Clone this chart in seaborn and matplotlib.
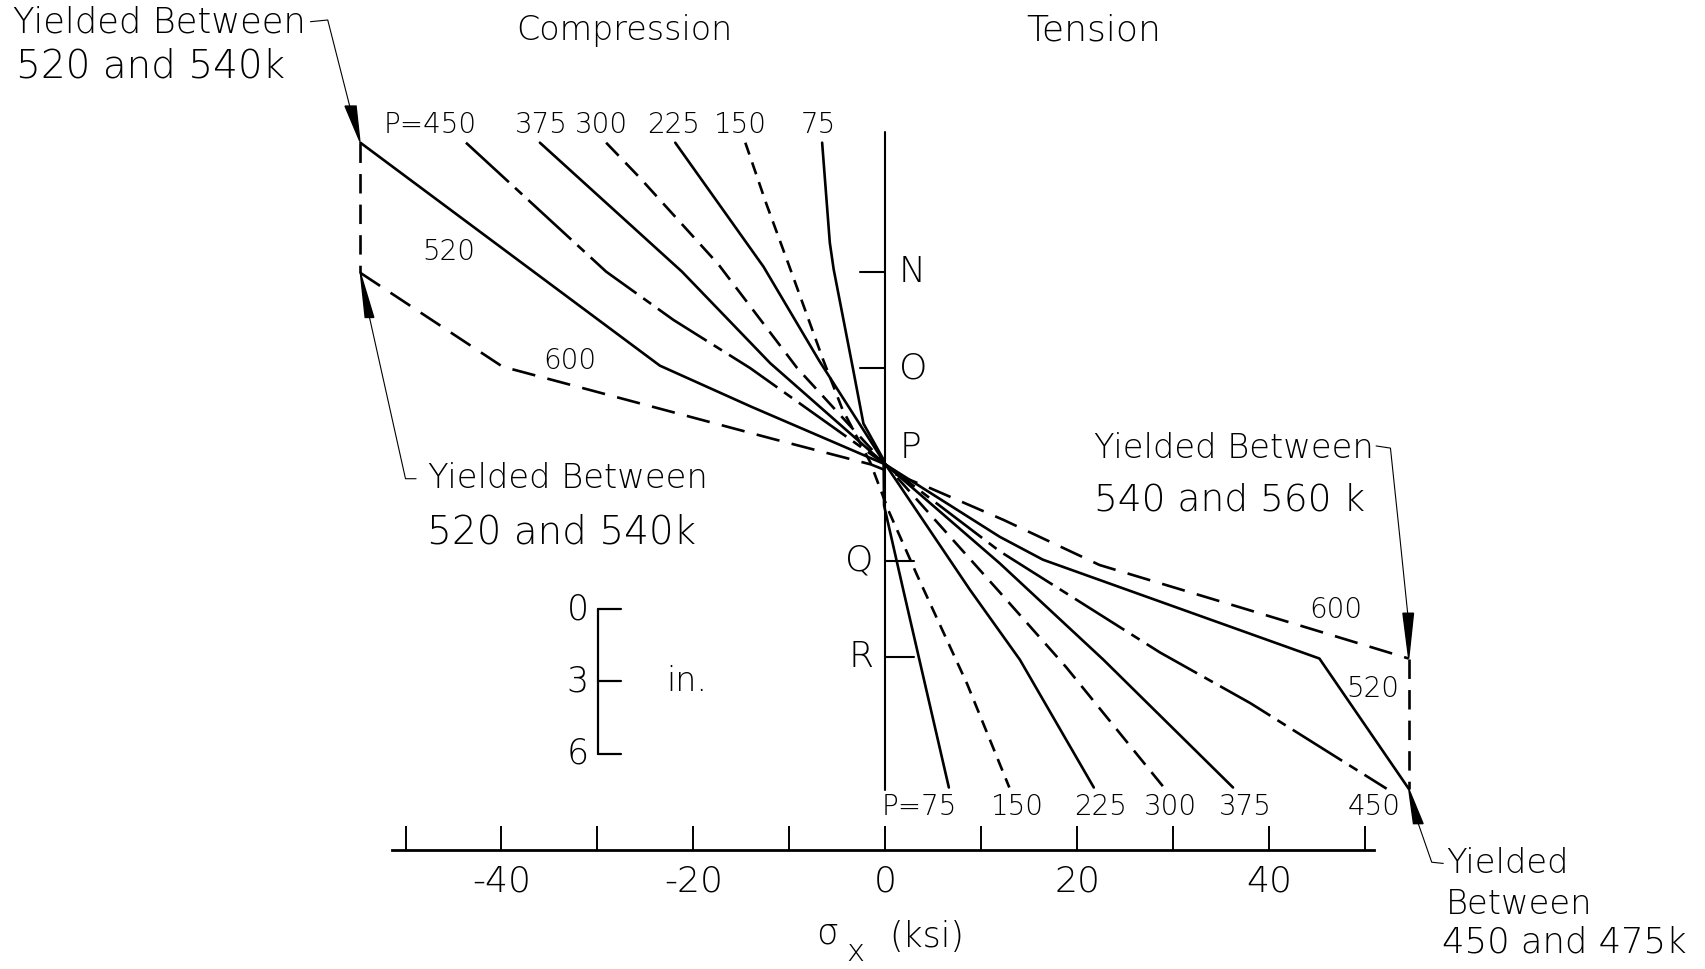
import numpy as np
import pandas as pd
import matplotlib
matplotlib.use("Agg")
import matplotlib.pyplot as plt
from matplotlib.ticker import FixedLocator, FuncFormatter
import seaborn as sns

# ---------------- data (stress in ksi, depth in inches, P at depth 0) ----------------
loads = ["75", "150", "225", "300", "375", "450", "520", "600"]

p75_x = [-6.6, -5.8, -5.4, -3.4, -2.3, -0.2, -0.15, 1.85, 6.6]
p75_y = [-13.35, -9.2, -8.1, -4.0, -1.7, -0.2, 1.7, 5.2, 13.4]

p150_x = [-14.6, -12.4, -10.0, -6.5, -4.5, -1.6, 0.3, 3.3, 8.5, 12.9]
p150_y = [-13.35, -10.8, -8.2, -4.35, -2.3, -0.1, 1.9, 4.6, 9.1, 13.4]

p225_x = [-21.9, -12.7, -6.9, 0.0, 8.8, 14.0, 21.7]
p225_y = [-13.35, -8.2, -4.3, 0.0, 5.2, 8.1, 13.4]

p300_x = [-29.1, -25.6, -17.4, -9.2, 0.0, 11.9, 18.8, 29.0]
p300_y = [-13.35, -11.9, -8.3, -4.0, 0.0, 5.3, 8.4, 13.4]

p375_x = [-36.0, -21.2, -12.0, 0.0, 11.9, 22.7, 36.2]
p375_y = [-13.35, -8.0, -4.2, 0.0, 4.1, 8.1, 13.4]

p450_x = [-43.7, -29.1, -22.1, -14.1, 0.0, 11.9, 28.6, 38.0, 52.2]
p450_y = [-13.35, -8.0, -6.0, -4.0, 0.0, 3.6, 7.8, 9.9, 13.45]

p520_x = [-54.7, -23.5, -14.0, 0.0, 11.9, 16.4, 45.2, 54.5]
p520_y = [-13.35, -4.1, -2.4, 0.0, 3.0, 3.95, 8.05, 13.45]

p600_x = [-54.7, -39.9, -12.0, -1.5, 4.3, 12.3, 22.3, 37.3, 54.5]
p600_y = [-7.95, -4.06, -1.09, 0.0, 0.92, 2.3, 4.17, 5.97, 8.05]

# yielding connectors (between 520 and 600 ends)
yield_left_x = [-54.7, -54.7]
yield_left_y = [-13.35, -7.95]
yield_right_x = [54.5, 54.5]
yield_right_y = [8.05, 13.45]

stress_ticks = [-50, -40, -30, -20, -10, 0, 10, 20, 30, 40, 50]
stress_labels = ["", "-40", "", "-20", "", "0", "", "20", "", "40", ""]

depth_marks = ["N", "O", "P", "Q", "R"]
depth_values = [-8, -4, 0, 4, 8]

scale_values = [0, 3, 6]

top_labels = ["P=450", "375", "300", "225", "150", "75"]
bottom_labels = ["P=75", "150", "225", "300", "375", "450"]

series = {
    "75": (p75_x, p75_y), "150": (p150_x, p150_y), "225": (p225_x, p225_y),
    "300": (p300_x, p300_y), "375": (p375_x, p375_y), "450": (p450_x, p450_y),
    "520": (p520_x, p520_y), "600": (p600_x, p600_y),
}
df = pd.concat(
    [pd.DataFrame({"stress": series[k][0], "depth": series[k][1], "P": k}) for k in loads],
    ignore_index=True,
)

# ---------------- style ----------------
sns.set_theme(style="white")
plt.rcParams["font.family"] = ["DejaVu Sans"]
plt.rcParams["lines.scale_dashes"] = False
plt.rcParams["text.color"] = "black"
plt.rcParams["xtick.color"] = "black"
plt.rcParams["axes.labelcolor"] = "black"

styles = {
    "75": "-", "150": (0, (9, 6)), "225": "-", "300": (0, (13, 7)),
    "375": "-", "450": (0, (42, 6, 7, 6)), "520": "-", "600": (0, (17, 9)),
}
LW = 1.9
FW = "light"

fig = plt.figure(figsize=(17.06, 9.69), dpi=100)
ax = fig.add_axes([0, 0, 1, 1])

for k in loads:
    sub = df[df["P"] == k]
    sns.lineplot(data=sub, x="stress", y="depth", sort=False, estimator=None,
                 color="black", lw=LW, ax=ax, legend=False)
    ax.lines[-1].set_linestyle(styles[k])

for xs, ys in [(yield_left_x, yield_left_y), (yield_right_x, yield_right_y)]:
    sns.lineplot(x=xs, y=ys, sort=False, estimator=None, color="black", lw=LW, ax=ax)
    ax.lines[-1].set_linestyle((0, (14, 8)))

# vertical reference axis through x = 0
ax.plot([0, 0], [-13.8, 13.5], color="black", lw=1.5)
for name, d in zip(depth_marks, depth_values):
    if d < 0:
        ax.plot([-2.7, 0], [d, d], color="black", lw=1.5)
        ax.text(1.4, d, name, fontsize=26, fontweight=FW, ha="left", va="center")
    elif d > 0:
        ax.plot([0, 3.0], [d, d], color="black", lw=1.5)
        ax.text(-1.2, d, name, fontsize=26, fontweight=FW, ha="right", va="center")
    else:
        ax.text(1.5, d - 0.7, name, fontsize=26, fontweight=FW, ha="left", va="center")

# depth scale bar (inches)
sb_x = -29.9
sb0 = 6.0
ax.plot([sb_x, sb_x], [sb0 + scale_values[0], sb0 + scale_values[-1]], color="black", lw=1.6)
for v in scale_values:
    ax.plot([sb_x, sb_x + 2.3], [sb0 + v, sb0 + v], color="black", lw=1.6)
    ax.text(sb_x - 1.0, sb0 + v, str(v), fontsize=25, fontweight=FW, ha="right", va="center")
ax.text(-20.7, sb0 + 3, "in.", fontsize=24, fontweight=FW, ha="center", va="center")

# load labels
for lab, xx in zip(top_labels, [-47.4, -35.8, -29.6, -22.1, -15.1, -7.0]):
    ax.text(xx, -14.1, lab, fontsize=20, fontweight=FW, ha="center", va="center")
for lab, xx in zip(bottom_labels, [3.5, 13.7, 22.4, 29.7, 37.5, 50.9]):
    ax.text(xx, 14.2, lab, fontsize=20, fontweight=FW, ha="center", va="center")
ax.text(-45.5, -8.8, "520", fontsize=20, fontweight=FW, ha="center", va="center")
ax.text(-32.9, -4.3, "600", fontsize=20, fontweight=FW, ha="center", va="center")
ax.text(46.9, 6.05, "600", fontsize=20, fontweight=FW, ha="center", va="center")
ax.text(50.8, 9.3, "520", fontsize=20, fontweight=FW, ha="center", va="center")

# titles
ax.text(-27.2, -18.0, "Compression", fontsize=24, fontweight=FW, ha="center", va="center")
ax.text(21.7, -18.0, "Tension", fontsize=26, fontweight=FW, ha="center", va="center")

# yield annotations
TXT = 25.5
TXT_B = 24.3
TXT2 = 28
ax.text(-90.9, -18.32, "Yielded Between", fontsize=TXT, fontweight=FW, ha="left", va="center")
ax.text(-90.6, -16.5, "520 and 540k", fontsize=TXT2, fontweight=FW, ha="left", va="center")
ax.plot([-59.9, -58.1, -55.8], [-18.37, -18.44, -14.85], color="black", lw=0.8)
ax.fill([-56.3, -55.15, -54.75], [-14.87, -14.87, -13.4], color="black")

ax.text(-47.7, 0.59, "Yielded Between", fontsize=TXT_B, fontweight=FW, ha="left", va="center")
ax.text(-47.8, 2.84, "520 and 540k", fontsize=TXT2, fontweight=FW, ha="left", va="center")
ax.fill([-54.7, -54.2, -53.3], [-7.95, -6.1, -6.1], color="black")
ax.plot([-53.75, -50.0, -48.9], [-6.1, 0.59, 0.59], color="black", lw=0.8)

ax.text(21.7, -0.67, "Yielded Between", fontsize=TXT_B, fontweight=FW, ha="left", va="center")
ax.text(21.7, 1.49, "540 and 560 k", fontsize=TXT2 - 1, fontweight=FW, ha="left", va="center")
ax.plot([51.1, 52.6, 53.6, 54.4], [-0.77, -0.68, 3.1, 6.2], color="black", lw=0.8)
ax.fill([53.9, 55.0, 54.5], [6.17, 6.17, 8.05], color="black")

ax.text(58.4, 16.54, "Yielded", fontsize=TXT_B, fontweight=FW, ha="left", va="center")
ax.text(58.4, 18.24, "Between", fontsize=TXT_B, fontweight=FW, ha="left", va="center")
ax.text(58.0, 19.81, "450 and 475k", fontsize=TXT, fontweight=FW, ha="left", va="center")
ax.fill([54.5, 55.0, 56.0], [13.45, 14.9, 14.9], color="black")
ax.plot([55.5, 56.9, 58.1], [14.9, 16.5, 16.55], color="black", lw=0.8)

# x axis (stress)
ax.set_xlim(-92.24, 85.47)
ax.set_ylim(20.93, -19.27)
for s in ["left", "right", "top"]:
    ax.spines[s].set_visible(False)
ax.spines["bottom"].set_position(("data", 16.0))
ax.spines["bottom"].set_bounds(-51.4, 50.9)
ax.spines["bottom"].set_linewidth(2.0)
ax.spines["bottom"].set_color("black")
ax.xaxis.set_major_locator(FixedLocator(stress_ticks))
ax.xaxis.set_major_formatter(FuncFormatter(lambda v, p: stress_labels[stress_ticks.index(int(round(v)))]))
ax.tick_params(axis="x", direction="in", length=17.3, width=1.4, pad=10, labelsize=26,
               colors="black", bottom=True)
for t in ax.get_xticklabels():
    t.set_fontweight(FW)
ax.set_yticks([])
ax.set_xlabel("")
ax.set_ylabel("")

ax.text(-6.1, 19.45, "σ", fontsize=25, fontweight=FW, ha="center", va="center")
ax.text(-3.1, 20.25, "x", fontsize=22, fontweight=FW, ha="center", va="center")
ax.text(4.3, 19.6, "(ksi)", fontsize=25, fontweight=FW, ha="center", va="center")

fig.savefig("out.png", dpi=100, facecolor="white")
